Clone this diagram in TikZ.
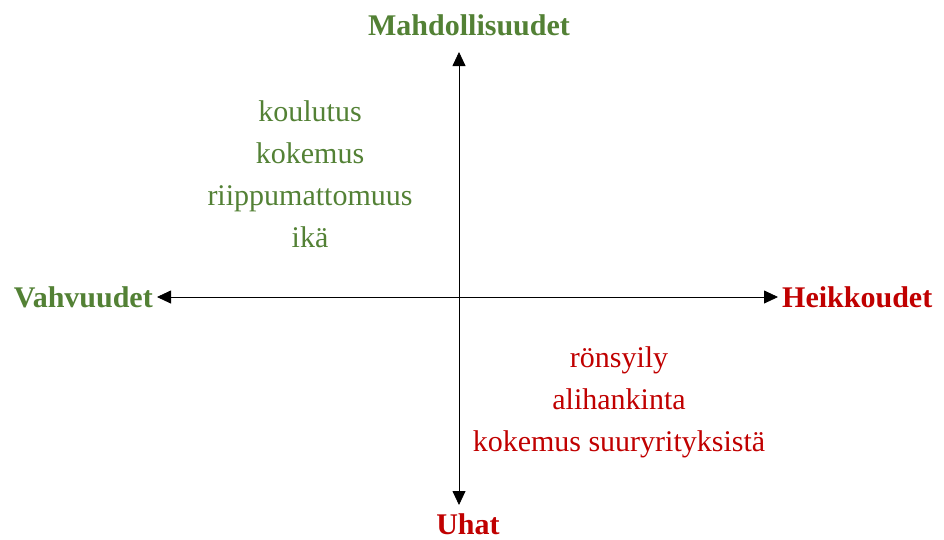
\documentclass[tikz,border=0pt]{standalone}
\usepackage{fontspec}
\setmainfont{Liberation Serif}
\usepackage{xcolor}
\usetikzlibrary{arrows.meta, positioning}
\definecolor{vihrea}{HTML}{538135}
\definecolor{punainen}{HTML}{C00000}

\begin{document}
\begin{tikzpicture}[x=1pt, y=-1pt,
        otsikko/.style={font=\fontsize{30}{36}\selectfont\bfseries, inner sep=4pt},
        lista/.style={align=center, font=\fontsize{30}{42}\selectfont},
        akseli/.style={{Triangle[length=14pt, width=13pt]}-{Triangle[length=14pt, width=13pt]}, black, line width=0.8pt}
    ]
        \useasboundingbox (0,0) rectangle (944,539);

        % Otsikot
        \node[otsikko, text=vihrea] (mahd) at (469,25) {Mahdollisuudet};
        \node[otsikko, text=punainen] (uhat) at (468,524) {Uhat};
        \node[otsikko, text=vihrea, anchor=east] (vahv) at (157,297) {Vahvuudet};
        \node[otsikko, text=punainen, anchor=west] (heik) at (778,297) {Heikkoudet};

        % Akselien päät
        \coordinate (ylos) at (459,52);
        \coordinate (alas) at (459,505);

        % Akselit
        \draw[akseli] (vahv.east) -- (heik.west);
        \draw[akseli] (ylos) -- (alas);

        % Listat
        \node[lista, text=vihrea] (vahvat) at (310,174) {koulutus\\kokemus\\riippumattomuus\\ikä};
        \node[lista, text=punainen] (heikot) at (619,402) {rönsyily\\alihankinta\\kokemus suuryrityksistä};
    \end{tikzpicture}
\end{document}
